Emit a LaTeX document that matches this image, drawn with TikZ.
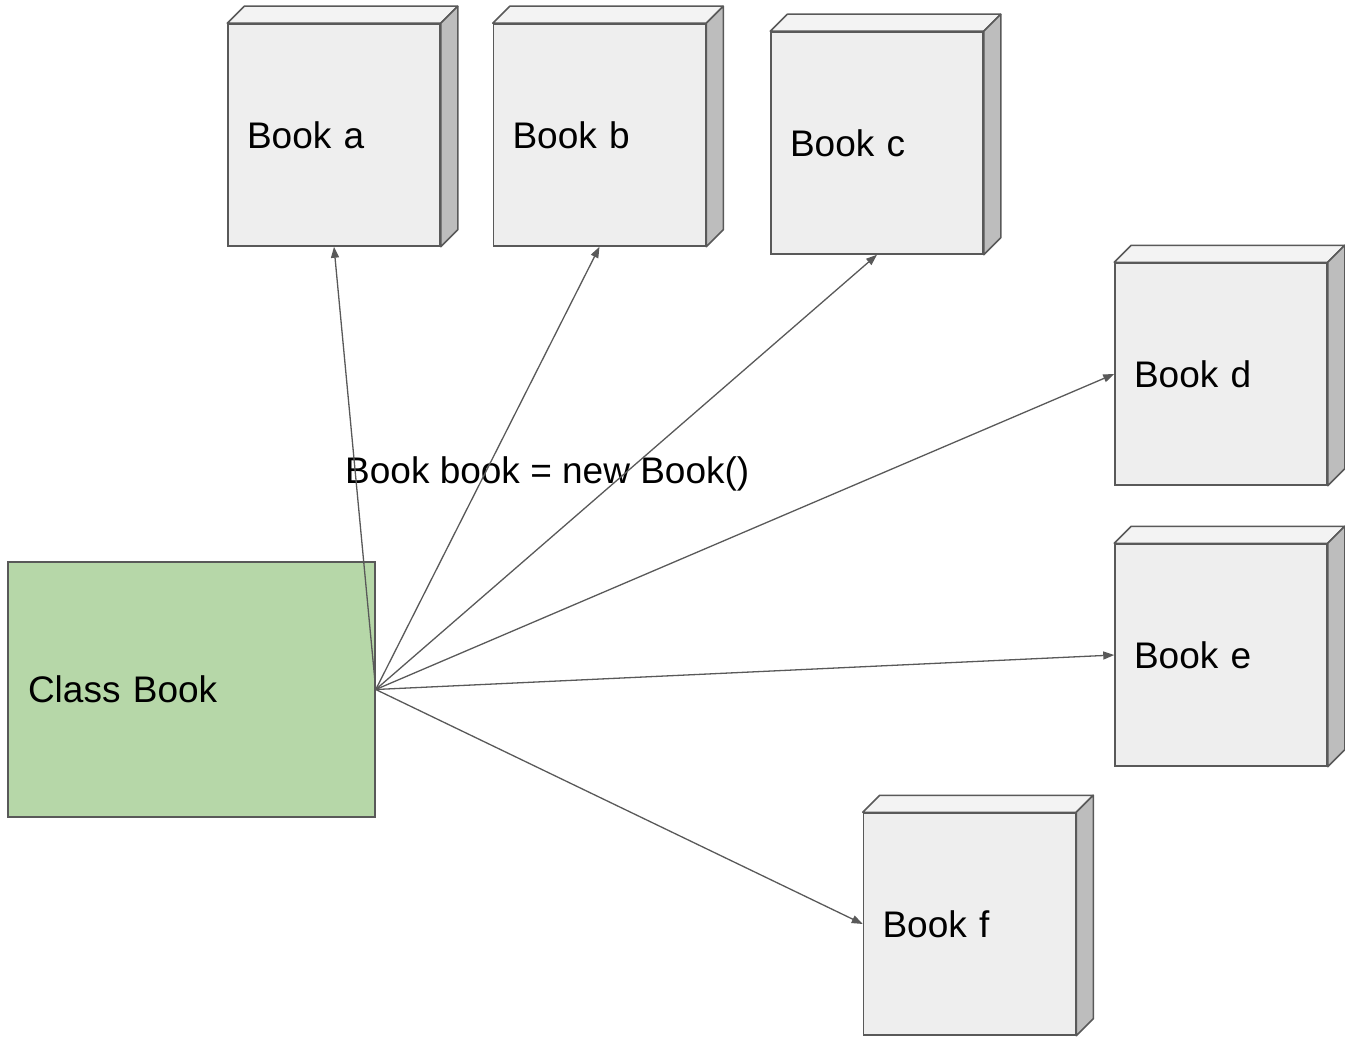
\documentclass[tikz,border=0pt]{standalone}
\usepackage{fontspec}
\setmainfont{Liberation Sans}
\usetikzlibrary{arrows.meta}
\definecolor{strokec}{HTML}{595959}
\definecolor{frontc}{HTML}{EEEEEE}
\definecolor{topc}{HTML}{F3F3F3}
\definecolor{sidec}{HTML}{BDBDBD}
\definecolor{greenc}{HTML}{B6D7A8}
\tikzset{
  bookface/.style={draw=strokec, fill=frontc, line width=1.5pt, minimum width=212pt, minimum height=222pt,
    text width=174pt, inner sep=19pt, align=left, font=\fontsize{37pt}{44pt}\selectfont},
  classbox/.style={draw=strokec, fill=greenc, line width=1.5pt, minimum width=367pt, minimum height=255pt,
    text width=327pt, inner sep=20pt, align=left, font=\fontsize{37pt}{44pt}\selectfont},
  topface/.style={draw=strokec, fill=topc, line width=1.5pt, line join=round},
  sideface/.style={draw=strokec, fill=sidec, line width=1.5pt, line join=round},
  conn/.style={draw=strokec, line width=1.3pt, -{Triangle[length=11pt,width=8pt]}},
  plain/.style={font=\fontsize{37pt}{44pt}\selectfont, inner sep=0pt}
}
\newcommand{\cubefaces}[1]{%
  \draw[topface] (#1.north west) -- ([shift={(17pt,17pt)}]#1.north west) -- ([shift={(17pt,17pt)}]#1.north east) -- (#1.north east) -- cycle;
  \draw[sideface] (#1.north east) -- ([shift={(17pt,17pt)}]#1.north east) -- ([shift={(17pt,17pt)}]#1.south east) -- (#1.south east) -- cycle;
}
\begin{document}
\begin{tikzpicture}[x=1pt,y=-1pt]
\useasboundingbox (0,0) rectangle (1345,1038);
\node[bookface] (a) at (334,135) {Book a};
\node[bookface] (b) at (599.5,135) {Book b};
\node[bookface] (c) at (877,143) {Book c};
\node[bookface] (d) at (1221,374) {Book d};
\node[bookface] (e) at (1221,655) {Book e};
\node[bookface] (f) at (969.5,924) {Book f};
\cubefaces{a}
\cubefaces{b}
\cubefaces{c}
\cubefaces{d}
\cubefaces{e}
\cubefaces{f}
\node[classbox] (cls) at (191.5,689.5) {Class Book};
\node[plain, anchor=base west] (lbl) at (345,483) {Book book = new Book()};
\draw[conn] (cls.east) -- (a.south);
\draw[conn] (cls.east) -- (b.south);
\draw[conn] (cls.east) -- (c.south);
\draw[conn] (cls.east) -- (d.west);
\draw[conn] (cls.east) -- (e.west);
\draw[conn] (cls.east) -- (f.west);
\end{tikzpicture}
\end{document}
